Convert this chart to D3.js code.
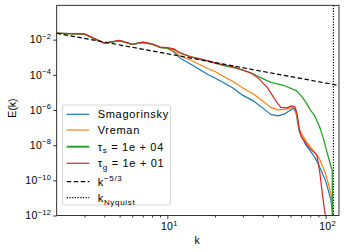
<!DOCTYPE html>
<html>
<head>
<meta charset="utf-8">
<script src="https://cdn.jsdelivr.net/npm/d3@7"></script>
<style>
  body { margin: 0; background: #fff; }
  text { font-family: "Liberation Sans", Arial, sans-serif; fill: #000; }
</style>
</head>
<body>
<svg id="chart" width="345" height="252"></svg>
<script>
// wavenumbers and energy spectra
var kSmag = [2, 3, 4, 5, 6, 7, 8, 9, 10, 11, 12, 14, 16, 18, 20, 23, 26, 30, 35, 40, 45, 50, 55, 60, 63, 65, 68, 70, 75, 80, 85, 90, 95, 100, 105, 108, 110, 111];
var smagorinsky = [2.31e-2, 2.04e-2, 6.24e-3, 8.77e-3, 5.33e-3, 7.08e-3, 5.62e-3, 3.63e-3, 3.16e-3, 2.0e-3,
  9.12e-4, 4.16e-4, 2.03e-4, 1.05e-4, 6.67e-5, 3.33e-5, 1.80e-5, 6.76e-6, 3.29e-6, 1.32e-6,
  5.62e-7, 4.62e-7, 6.0e-7, 1.01e-6, 1.23e-6, 6.84e-7, 6.46e-8, 3.56e-8, 1.04e-8, 4.74e-9,
  2.16e-9, 8.65e-10, 2.67e-10, 9.38e-11, 1.95e-11, 7.80e-12, 2.11e-12, 2.95e-13];

var kVreman = kSmag;
var vreman = [2.31e-2, 2.04e-2, 6.24e-3, 8.77e-3, 5.33e-3, 7.08e-3, 5.62e-3, 3.63e-3, 3.16e-3, 2.24e-3,
  1.19e-3, 7.03e-4, 3.90e-4, 2.31e-4, 1.56e-4, 7.60e-5, 4.22e-5, 1.80e-5, 8.22e-6, 3.29e-6,
  1.41e-6, 1.01e-6, 1.08e-6, 1.32e-6, 1.50e-6, 8.89e-7, 8.9e-8, 5.0e-8, 1.75e-8, 8.0e-9,
  4.16e-9, 2.16e-9, 7.60e-10, 2.34e-10, 4.88e-11, 1.71e-11, 4.06e-12, 2.95e-13];

var kTauS = [2, 3, 4, 5, 6, 7, 8, 9, 10, 11, 12, 14, 16, 18, 20, 23, 27, 31, 35, 38, 45, 55, 62, 65, 70, 75, 80, 85, 92, 96, 101, 105, 108, 110, 111];
var tauS = [2.31e-2, 2.04e-2, 6.24e-3, 8.77e-3, 5.33e-3, 7.08e-3, 5.62e-3, 3.63e-3, 3.31e-3, 2.75e-3,
  1.86e-3, 1.10e-3, 8.13e-4, 6.31e-4, 4.57e-4, 3.21e-4, 2.40e-4, 1.66e-4, 1.12e-4, 7.59e-5,
  3.72e-5, 2.40e-5, 1.55e-5, 1.32e-5, 6.31e-6, 2.82e-6, 1.02e-6, 5.01e-7, 1.0e-7, 3.16e-8,
  5.62e-9, 1.58e-9, 6.31e-10, 3.98e-10, 1e-13];

var kTauG = [2, 3, 4, 5, 6, 7, 8, 9, 10, 11, 12, 14, 16, 18, 20, 23, 27, 34, 38, 43, 48, 52, 57, 61, 64, 66, 68, 70, 79, 88, 92, 96, 100, 102];
var tauG = [2.31e-2, 2.14e-2, 6.46e-3, 9.12e-3, 5.50e-3, 7.24e-3, 5.75e-3, 3.80e-3, 3.55e-3, 3.02e-3,
  1.75e-3, 1.04e-3, 8.0e-4, 6.17e-4, 4.74e-4, 3.63e-4, 2.63e-4, 1.23e-4, 5.89e-5, 1.80e-5,
  3.75e-6, 1.41e-6, 1.32e-6, 1.71e-6, 1.50e-6, 6.31e-7, 1.0e-7, 3.16e-8, 6.76e-9, 2.82e-9,
  2.57e-10, 1.07e-11, 7.4e-13, 1e-13];

var kSlope = [2, 125];
var slopeRef = [2.31e-2, 2.35e-5];
var kNyquist = 112;

var yTicks = [1e-12, 1e-10, 1e-8, 1e-6, 1e-4, 1e-2];
var yTickExp = ['\u221212', '\u221210', '\u22128', '\u22126', '\u22124', '\u22122'];
var xTicks = [10, 100];
var xTickExp = ['1', '2'];
var xMinor = [3, 4, 5, 6, 7, 8, 9, 20, 30, 40, 50, 60, 70, 80, 90];

var colors = ['#1f77b4', '#ff7f0e', '#2ca02c', '#d62728'];

var pL = 56.7, pR = 339, pT = 5.3, pB = 215.5;

var svg = d3.select('#chart');

var x = d3.scaleLog().domain([2, 121.5]).range([pL, pR]);
var y = d3.scaleLog().domain([1e-12, 0.9]).range([pB, pT]);

svg.append('defs').append('clipPath').attr('id', 'clip')
  .append('rect')
    .attr('x', pL).attr('y', pT)
    .attr('width', pR - pL).attr('height', pB - pT);

var plot = svg.append('g').attr('clip-path', 'url(#clip)');

var line = d3.line()
  .x(function(d) { return x(d[0]); })
  .y(function(d) { return y(d[1]); });

var series = [
  { k: kSmag, e: smagorinsky, color: colors[0], w: 1.2 },
  { k: kVreman, e: vreman, color: colors[1], w: 1.2 },
  { k: kTauS, e: tauS, color: colors[2], w: 1.3 },
  { k: kTauG, e: tauG, color: colors[3], w: 1.2 }
];

series.forEach(function(s) {
  plot.append('path')
    .datum(d3.zip(s.k, s.e))
    .attr('fill', 'none')
    .attr('stroke', s.color)
    .attr('stroke-width', s.w)
    .attr('stroke-linejoin', 'round')
    .attr('d', line);
});

plot.append('path')
  .datum(d3.zip(kSlope, slopeRef))
  .attr('fill', 'none')
  .attr('stroke', '#000')
  .attr('stroke-width', 1.2)
  .attr('stroke-dasharray', '4.5,2.5')
  .attr('d', line);

plot.append('line')
  .attr('x1', x(kNyquist)).attr('x2', x(kNyquist))
  .attr('y1', pT).attr('y2', pB)
  .attr('stroke', '#000')
  .attr('stroke-width', 1.2)
  .attr('stroke-dasharray', '1.2,1.5');

// axes
var yAxis = d3.axisLeft(y).tickValues(yTicks).tickSize(3.5).tickFormat('');
svg.append('g').attr('transform', 'translate(' + pL + ',0)').call(yAxis)
  .call(function(g) { g.select('.domain').remove(); });

var xAxis = d3.axisBottom(x).tickValues(xTicks).tickSize(3.5).tickFormat('');
svg.append('g').attr('transform', 'translate(0,' + pB + ')').call(xAxis)
  .call(function(g) { g.select('.domain').remove(); });

var xAxisMinor = d3.axisBottom(x).tickValues(xMinor).tickSize(2).tickFormat('');
svg.append('g').attr('transform', 'translate(0,' + pB + ')').call(xAxisMinor)
  .call(function(g) { g.select('.domain').remove(); });

svg.selectAll('.tick line').attr('stroke', '#000').attr('stroke-width', 0.8);

yTicks.forEach(function(v, i) {
  var t = svg.append('text')
    .attr('x', pL - 5.5)
    .attr('y', y(v) + 3.7)
    .attr('text-anchor', 'end')
    .attr('font-size', 10.5)
    .attr('letter-spacing', 0.3);
  t.append('tspan').text('10');
  t.append('tspan').attr('dy', -4.5).attr('font-size', 7.5).text(yTickExp[i]);
});

xTicks.forEach(function(v, i) {
  var t = svg.append('text')
    .attr('x', x(v) + 2)
    .attr('y', pB + 14.5)
    .attr('text-anchor', 'middle')
    .attr('font-size', 10.5)
    .attr('letter-spacing', 0.3);
  t.append('tspan').text('10');
  t.append('tspan').attr('dy', -4.5).attr('font-size', 7.5).text(xTickExp[i]);
});

// frame
svg.append('rect')
  .attr('x', pL).attr('y', pT)
  .attr('width', pR - pL).attr('height', pB - pT)
  .attr('fill', 'none')
  .attr('stroke', '#000')
  .attr('stroke-width', 0.8);

svg.append('text')
  .attr('transform', 'translate(16,108) rotate(-90)')
  .attr('text-anchor', 'middle')
  .attr('font-size', 10.5)
  .text('E(k)');

svg.append('text')
  .attr('x', 197).attr('y', 244)
  .attr('text-anchor', 'middle')
  .attr('font-size', 10.5)
  .text('k');

// legend
var lg = svg.append('g');
lg.append('rect')
  .attr('x', 62.5).attr('y', 105)
  .attr('width', 108).attr('height', 100)
  .attr('rx', 2)
  .attr('fill', '#fff').attr('fill-opacity', 0.8)
  .attr('stroke', '#ccc').attr('stroke-width', 0.8);

var legendRows = [114.3, 130, 146.7, 163.3, 181.7, 197.7];
var legendStyles = [
  { color: colors[0], w: 1.2, dash: null },
  { color: colors[1], w: 1.2, dash: null },
  { color: colors[2], w: 2, dash: null },
  { color: colors[3], w: 1.2, dash: null },
  { color: '#000', w: 1.2, dash: '4.5,2.5' },
  { color: '#000', w: 1.2, dash: '1.2,1.5' }
];

legendStyles.forEach(function(s, i) {
  lg.append('line')
    .attr('x1', 66.7).attr('x2', 89.3)
    .attr('y1', legendRows[i]).attr('y2', legendRows[i])
    .attr('stroke', s.color)
    .attr('stroke-width', s.w)
    .attr('stroke-dasharray', s.dash);
});

function legendText(i) {
  return lg.append('text')
    .attr('x', 97.7)
    .attr('y', legendRows[i] + 4)
    .attr('font-size', 11)
    .attr('letter-spacing', 0.7);
}

legendText(0).text('Smagorinsky');
legendText(1).text('Vreman');

var t2 = legendText(2);
t2.append('tspan').text('\u03c4');
t2.append('tspan').attr('dy', 2.5).attr('font-size', 8).text('s');
t2.append('tspan').attr('dy', -2.5).text(' = 1e + 04');

var t3 = legendText(3);
t3.append('tspan').text('\u03c4');
t3.append('tspan').attr('dy', 2.5).attr('font-size', 8).text('g');
t3.append('tspan').attr('dy', -2.5).text(' = 1e + 01');

var t4 = legendText(4);
t4.append('tspan').text('k');
t4.append('tspan').attr('dy', -4.5).attr('font-size', 8).text('\u22125/3');

var t5 = legendText(5);
t5.append('tspan').text('k');
t5.append('tspan').attr('dy', 3).attr('font-size', 8).text('Nyquist');
</script>
</body>
</html>
